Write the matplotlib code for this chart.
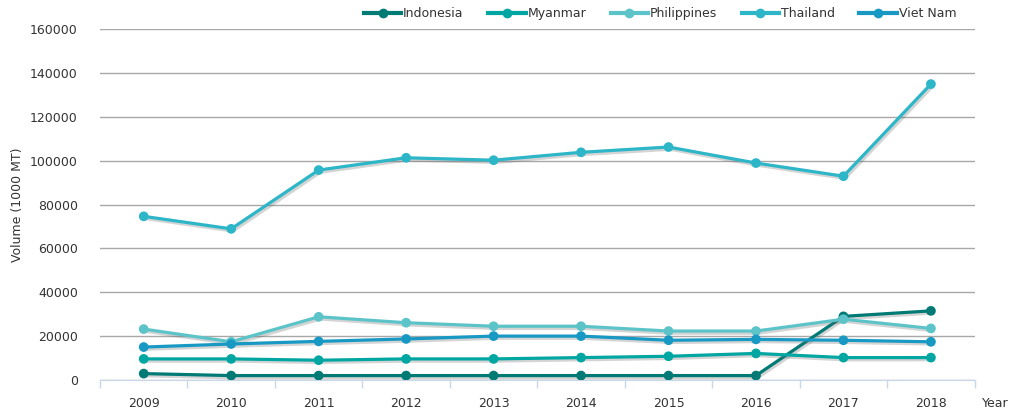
import matplotlib
matplotlib.use("Agg")
import matplotlib.pyplot as plt
import matplotlib.patheffects as pe
import numpy as np

years = ["2009", "2010", "2011", "2012", "2013", "2014", "2015", "2016", "2017", "2018"]

indonesia = [2900, 2000, 2000, 2000, 2000, 2000, 2000, 2000, 29000, 31500]
myanmar = [9600, 9600, 9000, 9600, 9600, 10200, 10800, 12100, 10200, 10200]
philippines = [23200, 17400, 28800, 26100, 24500, 24500, 22300, 22300, 27700, 23500]
thailand = [74600, 68900, 95700, 101300, 100200, 103800, 106200, 98900, 92900, 134900]
viet_nam = [15000, 16400, 17600, 18700, 20000, 20000, 18100, 18500, 18100, 17400]

series = [
    ("Indonesia", indonesia, "#007a75"),
    ("Myanmar", myanmar, "#00a6a1"),
    ("Philippines", philippines, "#5cc4c9"),
    ("Thailand", thailand, "#2cb6c8"),
    ("Viet Nam", viet_nam, "#1799c4"),
]

plt.rcParams["font.family"] = "DejaVu Sans"

fig = plt.figure(figsize=(10.1, 4.09), dpi=100)
ax = fig.add_axes([0.099, 0.071, 0.866, 0.858])

x = np.arange(len(years))
shadow = [pe.SimpleLineShadow(offset=(1.2, -1.6), shadow_color="#666666", alpha=0.28),
          pe.Normal()]
for name, vals, col in series:
    ax.plot(x, vals, color=col, lw=2.3, marker="o", ms=7, mew=0, label=name,
            path_effects=shadow, zorder=3)

ax.set_xlim(-0.5, len(years) - 0.5)
ax.set_ylim(0, 160000)
ax.set_yticks(np.arange(0, 160001, 20000))
ax.set_yticklabels([str(v) for v in range(0, 160001, 20000)])
ax.set_xticks(x)
ax.set_xticklabels(years)
ax.set_xticks(np.arange(-0.5, len(years), 1), minor=True)

ax.grid(axis="y", color="#a8a8a8", lw=1, zorder=0)
for s in ["top", "right", "left"]:
    ax.spines[s].set_visible(False)
ax.spines["bottom"].set_color("#c8d8ea")
ax.tick_params(axis="y", length=0, pad=16, labelsize=9, labelcolor="#333333")
ax.tick_params(axis="x", which="major", length=0, pad=12, labelsize=9, labelcolor="#333333")
ax.tick_params(axis="x", which="minor", length=6, color="#c8d8ea", width=1)

ax.set_ylabel("Volume (1000 MT)", fontsize=9, color="#333333", labelpad=4)
fig.text(0.985, 0.013, "Year", fontsize=9, color="#333333", ha="center", va="center")

leg = fig.legend(loc="upper right", bbox_to_anchor=(0.958, 1.01), ncol=5, frameon=False,
                 fontsize=9, handlelength=3.0, columnspacing=1.95, handletextpad=0.15,
                 labelcolor="#333333")
for h in leg.legend_handles:
    h.set_path_effects([])
    h.set_linewidth(3)
    h.set_markersize(7)

fig.savefig("out.png", dpi=100)
